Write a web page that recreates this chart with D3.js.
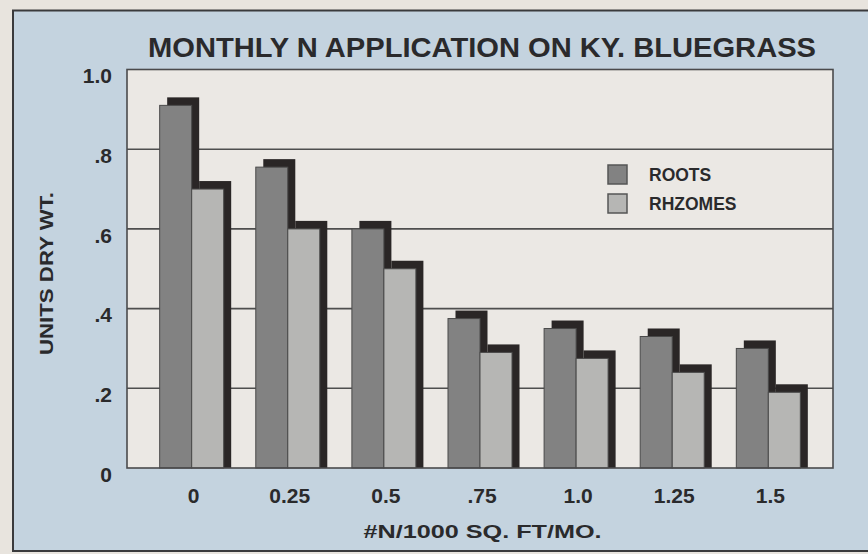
<!DOCTYPE html>
<html>
<head>
<meta charset="utf-8">
<script src="https://cdn.jsdelivr.net/npm/d3@7"></script>
<style>
  html, body { margin: 0; padding: 0; background: #e8e4de; }
  svg { display: block; }
  text { font-family: "Liberation Sans", Arial, Helvetica, sans-serif; font-weight: bold; fill: #2a2a2c; }
</style>
</head>
<body>
<svg id="chart" width="868" height="554"></svg>
<script>
// ---- data ----
const categories = ["0", "0.25", "0.5", ".75", "1.0", "1.25", "1.5"];
const seriesNames = ["ROOTS", "RHZOMES"];
const roots = [0.91, 0.755, 0.60, 0.375, 0.35, 0.33, 0.30];
const rhizomes = [0.70, 0.60, 0.50, 0.29, 0.275, 0.24, 0.19];
const yTickValues = [0, 0.2, 0.4, 0.6, 0.8, 1.0];
const yTickLabels = ["0", ".2", ".4", ".6", ".8", "1.0"];
const titleText = "MONTHLY N APPLICATION ON KY. BLUEGRASS";
const xTitle = "#N/1000 SQ. FT/MO.";
const yTitle = "UNITS DRY WT.";

const colors = { ROOTS: "#828282", RHZOMES: "#b6b6b4" };
const shadowColor = "#2a2626";

const svg = d3.select("#chart");

// outer panel
svg.append("rect").attr("x", 0).attr("y", 0).attr("width", 868).attr("height", 554).attr("fill", "#e8e4de");
svg.append("rect").attr("x", 13).attr("y", 10.5).attr("width", 880).attr("height", 540.5)
  .attr("fill", "#c4d3df").attr("stroke", "#3a3a3c").attr("stroke-width", 2);

const plot = { left: 127, right: 833, top: 69.5, bottom: 468 };

const x = d3.scaleBand().domain(categories)
  .range([plot.left, plot.right]).paddingInner(0.334).paddingOuter(0.34);
const xs = d3.scaleBand().domain(seriesNames).range([0, x.bandwidth()]).padding(0);
const y = d3.scaleLinear().domain([0, 1]).range([plot.bottom, plot.top]);

// plot background
svg.append("rect").attr("x", plot.left).attr("y", plot.top)
  .attr("width", plot.right - plot.left).attr("height", plot.bottom - plot.top)
  .attr("fill", "#ebe8e4");

// gridlines
svg.append("g").selectAll("line").data(yTickValues.filter(v => v > 0 && v < 1)).join("line")
  .attr("x1", plot.left).attr("x2", plot.right)
  .attr("y1", d => y(d)).attr("y2", d => y(d))
  .attr("stroke", "#4e4e4e").attr("stroke-width", 1.6);

// bars
const dx = 7.5, dy = 8;
const rows = categories.map((c, i) => ({ cat: c, values: [
  { key: "ROOTS", v: roots[i] }, { key: "RHZOMES", v: rhizomes[i] }
]}));
const groups = svg.append("g").selectAll("g").data(rows).join("g")
  .attr("transform", d => `translate(${x(d.cat)},0)`);
groups.each(function(d) {
  const g = d3.select(this);
  d.values.forEach(s => {
    g.append("rect")
      .attr("x", xs(s.key) + dx).attr("y", y(s.v) - dy)
      .attr("width", xs.bandwidth()).attr("height", y(0) - y(s.v) + dy)
      .attr("fill", shadowColor);
    g.append("rect")
      .attr("x", xs(s.key)).attr("y", y(s.v))
      .attr("width", xs.bandwidth()).attr("height", y(0) - y(s.v))
      .attr("fill", colors[s.key]).attr("stroke", "#4a4a4a").attr("stroke-width", 1);
  });
});

// frame
svg.append("rect").attr("x", plot.left).attr("y", plot.top)
  .attr("width", plot.right - plot.left).attr("height", plot.bottom - plot.top)
  .attr("fill", "none").attr("stroke", "#4a4a4c").attr("stroke-width", 1.6);

// y axis
const yAxis = d3.axisLeft(y).tickValues(yTickValues)
  .tickFormat((d, i) => yTickLabels[i]).tickSize(0).tickPadding(15);
const gy = svg.append("g").attr("transform", `translate(${plot.left},0)`).call(yAxis);
gy.select(".domain").remove();
gy.selectAll("text").attr("dy", "13.2px").style("font-size", "21px")
  .style("font-family", "'Liberation Sans', Arial, sans-serif").style("font-weight", "bold").attr("fill", "#2a2a2c");

// x axis
const xAxis = d3.axisBottom(x).tickSize(0).tickPadding(20);
const gx = svg.append("g").attr("transform", `translate(2,${plot.bottom})`).call(xAxis);
gx.select(".domain").remove();
gx.selectAll("text").style("font-size", "21px")
  .style("font-family", "'Liberation Sans', Arial, sans-serif").style("font-weight", "bold").attr("fill", "#2a2a2c");

// title
svg.append("text").attr("x", 482).attr("y", 57).attr("text-anchor", "middle")
  .style("font-size", "27px").attr("textLength", 668).attr("lengthAdjust", "spacingAndGlyphs")
  .text(titleText);

// axis titles
svg.append("text").attr("x", 482.5).attr("y", 538).attr("text-anchor", "middle")
  .style("font-size", "19px").attr("textLength", 238).attr("lengthAdjust", "spacingAndGlyphs")
  .text(xTitle);
svg.append("text").attr("transform", "translate(53,273.5) rotate(-90)").attr("text-anchor", "middle")
  .style("font-size", "18.5px").attr("textLength", 163).attr("lengthAdjust", "spacingAndGlyphs")
  .text(yTitle);

// legend
const legend = svg.append("g").selectAll("g").data(seriesNames).join("g")
  .attr("transform", (d, i) => `translate(608,${165 + i * 29})`);
legend.append("rect").attr("width", 19).attr("height", 19)
  .attr("fill", d => colors[d]).attr("stroke", "#555").attr("stroke-width", 1.5);
legend.append("text").attr("x", 41).attr("y", 16).style("font-size", "17.5px")
  .attr("fill", "#333").text(d => d);
</script>
</body>
</html>
